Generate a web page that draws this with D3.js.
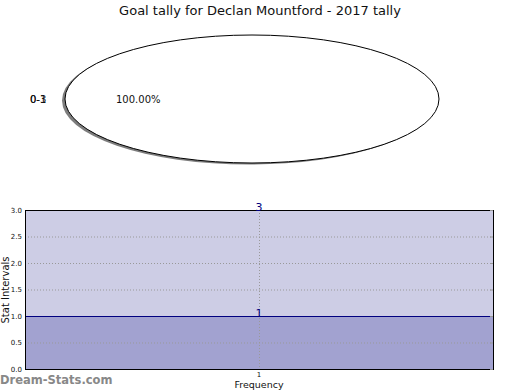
<!DOCTYPE html>
<html>
<head>
<meta charset="utf-8">
<script src="https://cdn.jsdelivr.net/npm/d3@7"></script>
<style>
  body { margin: 0; background: #fff; }
  text { font-family: "DejaVu Sans", sans-serif; }
</style>
</head>
<body>
<svg width="520" height="390"></svg>
<script>
const svg = d3.select("svg");

// DATA
const title = "Goal tally for Declan Mountford - 2017 tally";
const pieLabels = ["0-1", "0-3"];
const pieValues = [1, 0];
const barLabels = ["0-3", "0-1"];
const barValues = [3, 1];
const xTicks = ["1"];
const yTicks = [0, 0.5, 1, 1.5, 2, 2.5, 3];

// title
svg.append("text")
  .attr("x", 260).attr("y", 15)
  .attr("text-anchor", "middle")
  .attr("font-size", 13)
  .attr("fill", "#111")
  .text(title);

// PIE
const cx = 252, cy = 99, rx = 187, ry = 64;
const pie = d3.pie().sort(null)(pieValues);
const arc = d3.arc().innerRadius(0).outerRadius(1);
const pg = svg.append("g");

// shadow
pg.append("g")
  .attr("transform", `translate(${cx - 3}, ${cy + 1.5}) scale(${rx}, ${ry})`)
  .selectAll("path").data(pie.filter(d => d.value > 0)).join("path")
  .attr("d", arc)
  .attr("fill", "#666")
  .attr("opacity", 0.85);

pg.append("g")
  .attr("transform", `translate(${cx}, ${cy}) scale(${rx}, ${ry})`)
  .selectAll("path").data(pie.filter(d => d.value > 0)).join("path")
  .attr("d", arc)
  .attr("fill", "#fff")
  .attr("stroke", "#000")
  .attr("stroke-width", 1)
  .attr("vector-effect", "non-scaling-stroke");

const total = d3.sum(pieValues);
pieLabels.forEach(l => {
  svg.append("text")
    .attr("x", 30).attr("y", cy + 4)
    .attr("font-size", 10)
    .attr("fill", "#111")
    .text(l);
});
pie.filter(d => d.value > 0).forEach(d => {
  svg.append("text")
    .attr("x", 116).attr("y", cy + 4)
    .attr("font-size", 10)
    .attr("fill", "#111")
    .text((d.value / total * 100).toFixed(2) + "%");
});

// BAR CHART
const m = { left: 25, top: 210, right: 493, bottom: 369 };
const x = d3.scaleBand().domain(xTicks).range([m.left, m.right]);
const y = d3.scaleLinear().domain([0, 3]).range([m.bottom, m.top]);
const g = svg.append("g");

const fills = ["#cdcde5", "#a2a2d0"];
barValues.forEach((v, i) => {
  g.append("rect")
    .attr("x", m.left)
    .attr("y", y(v))
    .attr("width", m.right - m.left)
    .attr("height", y(0) - y(v))
    .attr("fill", fills[i]);
});

// grid
g.selectAll(".hg").data(yTicks.filter(t => t > 0 && t < 3)).join("line")
  .attr("x1", m.left).attr("x2", m.right)
  .attr("y1", d => y(d) + 0.5).attr("y2", d => y(d) + 0.5)
  .attr("stroke", "#999").attr("stroke-dasharray", "1,2");
const xc = x("1") + x.bandwidth() / 2;
g.append("line")
  .attr("x1", xc + 0.5).attr("x2", xc + 0.5)
  .attr("y1", m.top).attr("y2", m.bottom)
  .attr("stroke", "#999").attr("stroke-dasharray", "1,2");

// bar top lines
barValues.forEach(v => {
  g.append("line")
    .attr("x1", m.left).attr("x2", m.right)
    .attr("y1", y(v) + 0.5).attr("y2", y(v) + 0.5)
    .attr("stroke", "#000080");
});

// frame
g.append("rect")
  .attr("x", m.left + 0.5).attr("y", m.top + 0.5)
  .attr("width", m.right - m.left).attr("height", m.bottom - m.top)
  .attr("fill", "none").attr("stroke", "#000");

// value labels
barValues.forEach(v => {
  g.append("text")
    .attr("x", xc)
    .attr("y", y(v) + 1)
    .attr("text-anchor", "middle")
    .attr("font-size", 11)
    .attr("fill", "#000080")
    .text(v);
});

// axes
const yAxis = d3.axisLeft(y).tickValues(yTicks).tickFormat(d3.format(".1f")).tickSize(0).tickPadding(3);
g.append("g").attr("transform", `translate(${m.left},0)`).call(yAxis)
  .call(a => a.select(".domain").remove())
  .selectAll("text").attr("font-size", 7).attr("fill", "#111")
  .style("font-family", "DejaVu Sans");

// right-side small ticks
g.selectAll(".rt").data(yTicks).join("line")
  .attr("x1", m.right - 3).attr("x2", m.right)
  .attr("y1", d => y(d) + 0.5).attr("y2", d => y(d) + 0.5)
  .attr("stroke", "#999");

const xAxis = d3.axisBottom(x).tickSize(0).tickPadding(3);
g.append("g").attr("transform", `translate(0,${m.bottom})`).call(xAxis)
  .call(a => a.select(".domain").remove())
  .selectAll("text").attr("font-size", 7).attr("fill", "#111")
  .style("font-family", "DejaVu Sans");

svg.append("text")
  .attr("x", 259).attr("y", 388)
  .attr("text-anchor", "middle")
  .attr("font-size", 9.5)
  .attr("fill", "#111")
  .text("Frequency");

svg.append("text")
  .attr("transform", "translate(9, 290) rotate(-90)")
  .attr("text-anchor", "middle")
  .attr("font-size", 10)
  .attr("fill", "#111")
  .text("Stat Intervals");

// watermark
svg.append("text")
  .attr("x", 0).attr("y", 384)
  .attr("font-size", 11.5)
  .attr("fill", "#888")
  .style("font-weight", 600)
  .text("Dream-Stats.com");
</script>
</body>
</html>
